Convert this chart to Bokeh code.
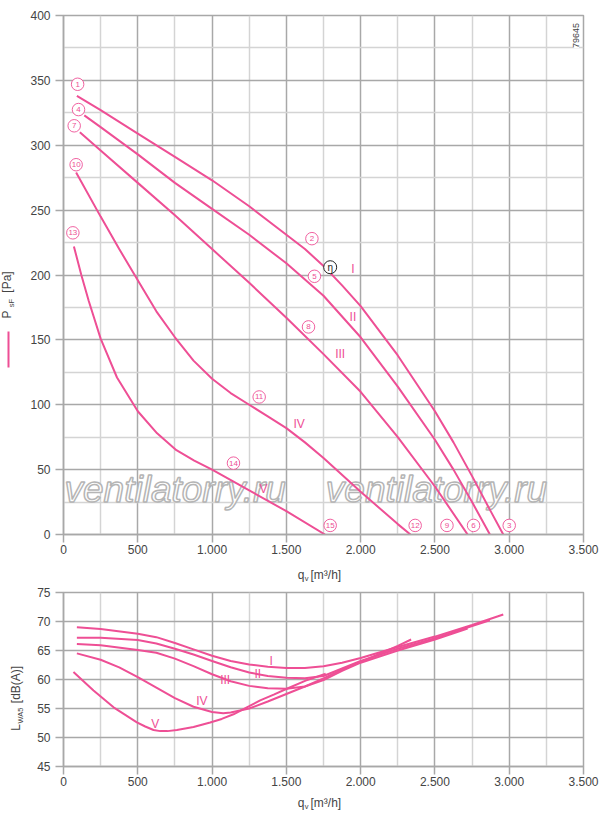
import math

from bokeh.core.properties import value
from bokeh.embed import file_html
from bokeh.layouts import column, row
from bokeh.models import FixedTicker, Label, Range1d
from bokeh.plotting import figure
from bokeh.resources import INLINE

PINK = "#ee4f95"
GRID = "#a8a8a8"
GRID_LIGHT = "#d4d4d4"
TXT = "#444444"
FONT = "Liberation Sans"

# ---- pressure curves (q in m3/h, p in Pa) ----
q_I = [90, 250, 500, 750, 1000, 1250, 1500, 1625, 1750, 1875, 2000, 2250, 2500, 2625, 2750, 2875, 2960]
p_I = [338, 327, 309, 291, 273, 253, 231, 220, 207, 192, 176, 138, 95, 71, 45, 18, 0]
q_II = [140, 250, 500, 750, 1000, 1250, 1500, 1750, 2000, 2250, 2500, 2625, 2750, 2870]
p_II = [323, 314, 293, 271, 251, 231, 209, 184, 152, 114, 73, 50, 25, 0]
q_III = [110, 250, 500, 750, 1000, 1250, 1500, 1750, 2000, 2250, 2500, 2720]
p_III = [310, 296, 271, 246, 220, 194, 167, 139, 110, 75, 37, 0]
q_IV = [85, 250, 375, 500, 625, 750, 875, 1000, 1125, 1250, 1375, 1500, 1625, 1750, 2000, 2250, 2335]
p_IV = [279, 245, 220, 196, 172, 152, 134, 120, 109, 100, 91, 82, 71, 59, 33, 8, 0]
q_V = [70, 120, 170, 250, 360, 500, 630, 760, 880, 1000, 1250, 1500, 1760]
p_V = [222, 200, 180, 151, 121, 95, 78, 65, 57, 50, 34, 18, 0]

# ---- sound power curves (q in m3/h, L in dB(A)) ----
qs_I = [90, 250, 500, 625, 750, 875, 1000, 1125, 1250, 1375, 1500, 1625, 1750, 1875, 2000, 2250, 2500, 2750, 2960]
L_I = [69.0, 68.7, 67.9, 67.3, 66.3, 65.2, 64.1, 63.2, 62.6, 62.2, 62.0, 62.0, 62.3, 62.9, 63.7, 65.6, 67.4, 69.4, 71.2]
qs_II = [90, 250, 500, 625, 750, 875, 1000, 1125, 1250, 1375, 1500, 1625, 1750, 1875, 2000, 2250, 2500, 2750, 2870]
L_II = [67.2, 67.2, 66.8, 66.2, 65.3, 64.3, 63.2, 62.1, 61.2, 60.6, 60.3, 60.2, 60.6, 61.9, 63.2, 65.3, 67.1, 69.2, 70.2]
qs_III = [90, 250, 500, 625, 750, 875, 1000, 1125, 1250, 1375, 1500, 1625, 1750, 1875, 2000, 2250, 2500, 2720]
L_III = [66.1, 65.9, 65.1, 64.6, 63.6, 62.3, 60.9, 59.7, 58.9, 58.5, 58.4, 58.8, 59.9, 61.5, 62.9, 65.0, 66.9, 68.8]
qs_IV = [90, 250, 375, 500, 625, 750, 875, 1000, 1075, 1125, 1250, 1375, 1500, 1625, 1750, 1875, 2000, 2125, 2250, 2340]
L_IV = [64.5, 63.4, 62.1, 60.4, 58.6, 56.8, 55.3, 54.4, 54.2, 54.3, 55.0, 56.2, 57.5, 58.8, 60.2, 61.7, 63.0, 64.4, 65.8, 66.9]
qs_V = [67, 202, 337, 494, 550, 606, 651, 700, 763, 875, 987, 1065, 1144, 1250, 1324, 1415, 1503, 1630, 1765]
L_V = [61.3, 58.1, 55.2, 52.6, 51.9, 51.3, 51.1, 51.1, 51.3, 51.8, 52.6, 53.2, 54.0, 55.4, 56.4, 57.4, 58.4, 59.8, 61.0]

# ---- point markers and curve names ----
mark_q = [95, 101, 72, 85, 63, 1672, 1689, 1649, 1317, 1144, 1795, 2367, 2581, 2760, 3000]
mark_p = [347, 327.5, 315, 285, 232.5, 228, 199, 160, 106, 55, 7, 7, 7, 7, 7]
mark_txt = ["1", "4", "7", "10", "13", "2", "5", "8", "11", "14", "15", "12", "9", "6", "3"]
eta_q, eta_p = [1795], [206]
name_txt = ["I", "II", "III", "IV", "V"]
name_q = [1948, 1948, 1862, 1586, 1346]
name_p = [205, 168, 139, 85, 35]
sname_q = [1398, 1308, 1088, 931, 617]
sname_L = [63.2, 61.0, 60.0, 56.3, 52.4]

x_ticks = [0, 500, 1000, 1500, 2000, 2500, 3000, 3500]
x_minor = [250, 750, 1250, 1750, 2250, 2750, 3250]
p_ticks = list(range(0, 401, 50))
p_minor = list(range(25, 400, 50))
L_ticks = [45, 50, 55, 60, 65, 70, 75]


def dotted(v):
    return f"{v:,}".replace(",", ".")


def style(p, yticks, yminor):
    p.outline_line_color = GRID
    p.outline_line_width = 1.5
    for ax in (p.xaxis[0], p.yaxis[0]):
        ax.axis_line_color = GRID
        ax.axis_line_width = 1.5
        ax.major_tick_line_color = GRID
        ax.major_tick_line_width = 1.5
        ax.major_tick_out = 8
        ax.major_tick_in = 0
        ax.minor_tick_out = 0
        ax.minor_tick_in = 0
        ax.major_label_text_font = FONT
        ax.major_label_text_font_size = "12px"
        ax.major_label_text_color = TXT
    p.xaxis.ticker = FixedTicker(ticks=x_ticks, minor_ticks=x_minor)
    p.xaxis.major_label_overrides = {t: dotted(t) for t in x_ticks}
    p.xaxis.major_label_standoff = 2
    p.yaxis.ticker = FixedTicker(ticks=yticks, minor_ticks=yminor)
    p.yaxis.major_label_standoff = 5
    for g in (p.xgrid[0], p.ygrid[0]):
        g.grid_line_color = GRID
        g.grid_line_width = 1.5
    p.xgrid.minor_grid_line_color = GRID_LIGHT
    p.xgrid.minor_grid_line_width = 1.5
    if yminor:
        p.ygrid.minor_grid_line_color = GRID_LIGHT
        p.ygrid.minor_grid_line_width = 1.5


def text_fig(w, h):
    # blank strip (pixel coordinates, y downwards) for the axis titles
    f = figure(width=w, height=h, output_backend="svg", toolbar_location=None,
               x_range=Range1d(0, w), y_range=Range1d(h, 0), frame_width=w, frame_height=h,
               x_axis_location=None, y_axis_location=None, min_border=0)
    f.grid.visible = False
    f.outline_line_color = None
    return f


def put(f, x, y, text, size="12px", angle=0, align="center", color=TXT):
    f.text([x], [y], text=[text], angle=angle, text_font=value(FONT), text_font_size=size,
           text_color=color, text_align=align, text_baseline="middle")


# ================= top chart =================
top = figure(width=574, height=562, output_backend="svg", toolbar_location=None,
             x_range=Range1d(0, 3500), y_range=Range1d(0, 400),
             frame_width=520, frame_height=519,
             min_border_left=37, min_border_right=17, min_border_top=15, min_border_bottom=28)
style(top, p_ticks, p_minor)


def top_xy(px, py):
    return (px - 63) * 3500 / 520, (534 - py) * 400 / 519


for lx, al in ((64, "left"), (436, "center")):
    x, y = top_xy(lx, 489)
    top.add_layout(Label(x=x, y=y, text="ventilatorry.ru", text_font=FONT,
                         text_font_size="37px", text_font_style="italic",
                         text_color="white", text_outline_color="#b5b5b5",
                         text_align=al, text_baseline="middle", level="underlay"))

for q, pr in ((q_I, p_I), (q_II, p_II), (q_III, p_III), (q_IV, p_IV), (q_V, p_V)):
    top.line(q, pr, line_color=PINK, line_width=2)

top.scatter(mark_q, mark_p, marker="circle", size=12.5, fill_color="white",
            line_color=PINK, line_width=0.9)
top.text(mark_q, mark_p, text=mark_txt, text_font=value(FONT), text_font_size="8px",
         text_color=PINK, text_align="center", text_baseline="middle")
top.scatter(eta_q, eta_p, marker="circle", size=13, fill_color="white",
            line_color="#222222", line_width=1)
top.text(eta_q, eta_p, text=["η"], text_font=value(FONT), text_font_size="10px",
         text_color="#222222", text_align="center", text_baseline="middle")
top.text(name_q, name_p, text=name_txt, text_font=value(FONT), text_font_size="12px",
         text_color=PINK, text_align="center", text_baseline="middle")

x, y = top_xy(575.5, 35)
top.add_layout(Label(x=x, y=y, text="79645", angle=math.pi / 2, text_font=FONT,
                     text_font_size="9px", text_color=TXT, text_align="center",
                     text_baseline="middle", background_fill_color="white"))

# left strip of the top chart: P_sF [Pa] and the curve sample
yl_top = text_fig(26, 562)
put(yl_top, 6, 299, "P", angle=math.pi / 2)
put(yl_top, 11, 287.5, "sF", size="7.5px", angle=math.pi / 2)
put(yl_top, 6.5, 266.5, "[Pa]", angle=math.pi / 2)
yl_top.line([8, 8], [316, 352], line_color=PINK, line_width=2)

# x title strip of the top chart (page y 562..585)
xl_top = text_fig(600, 23)
put(xl_top, 300.5, 12, "q")
put(xl_top, 306, 16, "v", size="7.5px")
put(xl_top, 310, 12, "[m³/h]", align="left")

# ================= bottom chart =================
bot = figure(width=574, height=206, output_backend="svg", toolbar_location=None,
             x_range=Range1d(0, 3500), y_range=Range1d(45, 75),
             frame_width=520, frame_height=174,
             min_border_left=37, min_border_right=17, min_border_top=7, min_border_bottom=25)
style(bot, L_ticks, [])

for q, L in ((qs_I, L_I), (qs_II, L_II), (qs_III, L_III), (qs_IV, L_IV), (qs_V, L_V)):
    bot.line(q, L, line_color=PINK, line_width=2)
bot.text(sname_q, sname_L, text=name_txt, text_font=value(FONT), text_font_size="12px",
         text_color=PINK, text_align="center", text_baseline="middle")

# left strip of the bottom chart (page y 585..791)
yl_bot = text_fig(26, 206)
put(yl_bot, 15.5, 135, "L", angle=math.pi / 2)
put(yl_bot, 20, 123, "WA5", size="7.5px", angle=math.pi / 2)
put(yl_bot, 15.5, 92, "[dB(A)]", angle=math.pi / 2)

# x title strip of the bottom chart (page y 791..815)
xl_bot = text_fig(600, 24)
put(xl_bot, 300.5, 11, "q")
put(xl_bot, 306, 15, "v", size="7.5px")
put(xl_bot, 310, 11, "[m³/h]", align="left")

layout = column(row(yl_top, top, spacing=0), xl_top,
                row(yl_bot, bot, spacing=0), xl_bot, spacing=0)
open("out.html", "w").write(file_html(layout, INLINE))
